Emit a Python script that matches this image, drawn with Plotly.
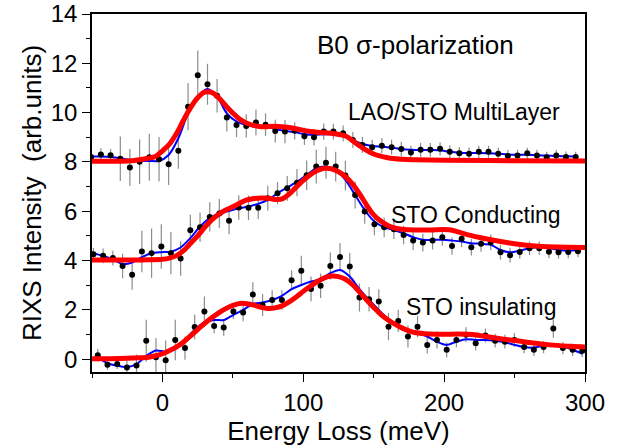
import plotly.graph_objects as go

# ---------------- data ----------------
E_top = [-50.6, -43.7, -36.8, -29.9, -23.1, -16.2, -9.3, -2.4, 4.4, 11.3, 18.2, 25.1, 32.0, 38.8, 45.7,
         52.6, 59.5, 66.4, 73.2, 80.1, 87.0, 93.9, 100.8, 107.6, 114.5, 121.4, 128.3, 135.2, 142.0, 148.9,
         155.8, 162.7, 169.6, 176.4, 183.3, 190.2, 197.1, 204.0, 210.8, 217.7, 224.6, 231.5, 238.4, 245.2,
         252.1, 259.0, 265.9, 272.8, 279.6, 286.5, 293.4]
E_mid = [-49.0, -42.1, -35.2, -28.3, -21.5, -14.6, -7.7, -0.8, 6.0, 12.9, 19.8, 26.7, 33.6, 40.4, 47.3,
         54.2, 61.1, 68.0, 74.8, 81.7, 88.6, 95.5, 102.4, 109.2, 116.1, 123.0, 129.9, 136.8, 143.6, 150.5,
         157.4, 164.3, 171.2, 178.0, 184.9, 191.8, 198.7, 205.6, 212.4, 219.3, 226.2, 233.1, 240.0, 246.8,
         253.7, 260.6, 267.5, 274.4, 281.2, 288.1, 295.0]
E_bot = [-45.9, -39.0, -32.1, -25.2, -18.4, -11.5, -4.6, 2.3, 9.1, 16.0, 22.9, 29.8, 36.7, 43.5, 50.4,
         57.3, 64.2, 71.1, 77.9, 84.8, 91.7, 98.6, 105.5, 112.3, 119.2, 126.1, 133.0, 139.9, 146.7, 153.6,
         160.5, 167.4, 174.3, 181.1, 188.0, 194.9, 201.8, 208.7, 215.5, 222.4, 229.3, 236.2, 243.1, 249.9,
         256.8, 263.7, 270.6, 277.5, 284.3, 291.2, 298.1]

top_data = [8.20, 8.30, 8.27, 8.13, 7.77, 8.01, 8.19, 8.11, 7.91, 8.45, 10.24, 11.52, 11.15, 10.68, 9.80,
            9.50, 9.46, 9.60, 9.51, 9.25, 9.23, 9.26, 9.04, 9.00, 9.23, 9.23, 9.16, 8.89, 8.69, 8.60,
            8.66, 8.60, 8.52, 8.38, 8.49, 8.49, 8.53, 8.41, 8.35, 8.33, 8.41, 8.41, 8.33, 8.24, 8.26,
            8.35, 8.26, 8.19, 8.26, 8.20, 8.20]
top_err = [0.2, 0.25, 0.25, 0.9, 0.75, 0.9, 0.95, 0.9, 0.85, 0.73, 0.96, 1.0, 0.83, 0.68, 0.57,
           0.49, 0.47, 0.53, 0.46, 0.46, 0.47, 0.35, 0.35, 0.33, 0.33, 0.32, 0.32, 0.32, 0.32, 0.3,
           0.3, 0.3, 0.3, 0.28, 0.28, 0.28, 0.27, 0.27, 0.26, 0.26, 0.25, 0.25, 0.25, 0.24, 0.24,
           0.23, 0.23, 0.22, 0.22, 0.22, 0.21]
top_smooth = [8.22, 8.22, 8.20, 8.15, 8.08, 8.05, 8.04, 8.04, 8.28, 8.96, 9.97, 10.65, 10.96, 10.65, 9.97,
              9.64, 9.50, 9.43, 9.43, 9.34, 9.26, 9.21, 9.12, 9.10, 9.12, 9.12, 9.08, 8.89, 8.73, 8.65,
              8.62, 8.58, 8.52, 8.49, 8.48, 8.48, 8.47, 8.41, 8.37, 8.36, 8.36, 8.35, 8.33, 8.30, 8.29,
              8.29, 8.27, 8.26, 8.24, 8.23, 8.22]

mid_data = [4.26, 4.19, 4.10, 3.78, 3.42, 4.37, 4.30, 4.57, 4.30, 4.08, 5.23, 5.35, 5.77, 5.91, 5.61,
            6.15, 6.14, 6.14, 6.53, 6.73, 6.93, 7.16, 7.46, 7.81, 7.97, 7.81, 7.45, 6.66, 5.99, 5.47,
            5.35, 5.27, 5.04, 4.81, 4.73, 4.81, 4.95, 4.59, 4.88, 4.54, 4.68, 4.74, 4.34, 4.22, 4.35,
            4.50, 4.50, 4.36, 4.34, 4.35, 4.38]
mid_err = [0.25, 0.3, 0.3, 0.5, 0.6, 0.84, 1.0, 0.9, 0.86, 0.7, 0.63, 0.6, 0.59, 0.59, 0.54,
           0.5, 0.5, 0.45, 0.5, 0.45, 0.5, 0.55, 0.6, 0.68, 0.65, 0.6, 0.6, 0.55, 0.5, 0.45,
           0.4, 0.4, 0.38, 0.38, 0.36, 0.36, 0.35, 0.35, 0.33, 0.33, 0.32, 0.32, 0.3, 0.3, 0.28,
           0.28, 0.27, 0.27, 0.26, 0.26, 0.25]
mid_smooth = [4.30, 4.19, 4.05, 3.86, 3.92, 4.14, 4.30, 4.34, 4.36, 4.53, 4.91, 5.38, 5.72, 5.92, 6.01,
              6.12, 6.19, 6.30, 6.46, 6.73, 6.96, 7.20, 7.47, 7.75, 7.81, 7.68, 7.27, 6.66, 6.05, 5.58,
              5.35, 5.24, 5.11, 4.95, 4.84, 4.84, 4.84, 4.81, 4.77, 4.70, 4.68, 4.64, 4.43, 4.34, 4.40,
              4.50, 4.54, 4.50, 4.43, 4.40, 4.43]

bot_data = [0.16, -0.23, -0.20, -0.34, -0.26, 0.75, 0.08, -0.04, 0.78, 0.45, 1.31, 1.93, 1.35, 1.28, 1.93,
            1.89, 2.62, 2.20, 2.40, 2.40, 3.20, 3.59, 2.85, 2.98, 3.78, 4.14, 3.76, 2.50, 2.43, 2.34,
            1.32, 1.55, 0.92, 1.32, 0.58, 0.78, 0.38, 0.78, 0.99, 0.65, 0.96, 0.75, 0.71, 0.78, 0.49,
            0.38, 0.49, 1.24, 0.45, 0.38, 0.34]
bot_err = [0.25, 0.2, 0.2, 0.3, 0.45, 0.85, 0.78, 0.8, 0.82, 0.47, 0.5, 0.61, 0.3, 0.33, 0.3,
           0.35, 0.5, 0.45, 0.4, 0.4, 0.4, 0.6, 0.5, 0.5, 0.55, 0.57, 0.55, 0.57, 0.5, 0.5,
           0.55, 0.45, 0.45, 0.44, 0.35, 0.35, 0.3, 0.3, 0.3, 0.3, 0.28, 0.28, 0.28, 0.28, 0.25,
           0.25, 0.25, 0.37, 0.25, 0.25, 0.25]
bot_smooth = [0.08, -0.16, -0.27, -0.32, -0.20, 0.13, 0.35, 0.31, 0.41, 0.78, 1.19, 1.50, 1.59, 1.59, 1.80,
              2.00, 2.24, 2.30, 2.40, 2.57, 2.84, 3.01, 3.15, 3.24, 3.49, 3.62, 3.35, 2.84, 2.40, 2.00,
              1.62, 1.39, 1.19, 1.05, 0.92, 0.71, 0.58, 0.71, 0.81, 0.78, 0.78, 0.75, 0.69, 0.58, 0.49,
              0.47, 0.54, 0.58, 0.51, 0.38, 0.22]

# fitted model curves (red)
fit_top_E = [-50, -40, -30, -20, -10, -5, 0, 5, 10, 15, 20, 25, 30, 35, 40, 45, 50, 55, 60, 70, 80, 90,
             100, 110, 120, 130, 140, 150, 160, 170, 180, 200, 250, 300]
fit_top = [8.03, 8.03, 8.03, 8.06, 8.15, 8.22, 8.45, 8.72, 9.15, 9.70, 10.20, 10.60, 10.83, 10.82, 10.60,
           10.28, 9.98, 9.73, 9.57, 9.43, 9.45, 9.40, 9.28, 9.20, 9.16, 9.05, 8.65, 8.32, 8.17, 8.11,
           8.09, 8.07, 8.05, 8.04]
fit_mid_E = [-50, -20, -10, 0, 5, 10, 15, 20, 25, 30, 35, 40, 45, 50, 55, 60, 65, 70, 75, 80, 85, 90,
             95, 100, 105, 110, 115, 120, 125, 130, 135, 140, 145, 150, 155, 160, 165, 170, 180, 190,
             200, 205, 210, 220, 230, 240, 250, 260, 270, 280, 300]
fit_mid = [4.02, 4.02, 4.03, 4.05, 4.10, 4.20, 4.40, 4.70, 5.00, 5.35, 5.65, 5.88, 6.05, 6.18, 6.33,
           6.46, 6.52, 6.54, 6.53, 6.48, 6.50, 6.70, 6.98, 7.25, 7.48, 7.65, 7.74, 7.72, 7.60, 7.40,
           7.10, 6.70, 6.25, 5.85, 5.60, 5.42, 5.32, 5.27, 5.24, 5.24, 5.26, 5.24, 5.16, 5.00, 4.88,
           4.77, 4.68, 4.61, 4.57, 4.55, 4.53]
fit_bot_E = [-50, -30, -20, -10, -5, 0, 5, 10, 15, 20, 25, 30, 35, 40, 45, 50, 55, 60, 65, 70, 75, 80,
             85, 90, 95, 100, 105, 110, 115, 120, 125, 130, 135, 140, 145, 150, 155, 160, 165, 170, 175,
             180, 190, 200, 210, 220, 230, 240, 250, 260, 275, 290, 300]
fit_bot = [0.02, 0.03, 0.05, 0.08, 0.14, 0.22, 0.35, 0.50, 0.70, 0.95, 1.20, 1.45, 1.68, 1.88, 2.05,
           2.18, 2.26, 2.25, 2.19, 2.10, 2.06, 2.08, 2.16, 2.32, 2.52, 2.75, 2.96, 3.15, 3.30, 3.37,
           3.35, 3.24, 3.02, 2.72, 2.40, 2.10, 1.82, 1.60, 1.42, 1.27, 1.15, 1.07, 1.02, 1.01, 1.02,
           1.00, 0.92, 0.83, 0.76, 0.68, 0.58, 0.52, 0.49]

labels = ["B0 σ-polarization", "LAO/STO MultiLayer", "STO Conducting", "STO insulating"]
x_ticks = [0, 100, 200, 300]
y_ticks = [0, 2, 4, 6, 8, 10, 12, 14]

FONT = "Liberation Sans, Arial, sans-serif"

fig = go.Figure()

series = [(E_top, top_data, top_err, top_smooth, fit_top_E, fit_top),
          (E_mid, mid_data, mid_err, mid_smooth, fit_mid_E, fit_mid),
          (E_bot, bot_data, bot_err, bot_smooth, fit_bot_E, fit_bot)]

for E, d, err, sm, fE, f in series:
    # error bars (gray, no caps)
    fig.add_trace(go.Scatter(x=E, y=d, mode="markers",
                             marker=dict(size=1, color="rgba(0,0,0,0)"),
                             error_y=dict(type="data", array=err, color="#8c8c8c",
                                          thickness=1.2, width=0),
                             showlegend=False, hoverinfo="skip"))
for E, d, err, sm, fE, f in series:
    fig.add_trace(go.Scatter(x=E, y=sm, mode="lines",
                             line=dict(color="#0000ff", width=2, shape="spline", smoothing=0.8),
                             showlegend=False))
for E, d, err, sm, fE, f in series:
    fig.add_trace(go.Scatter(x=E, y=d, mode="markers",
                             marker=dict(size=6, color="black"),
                             showlegend=False))
for E, d, err, sm, fE, f in series:
    fig.add_trace(go.Scatter(x=fE, y=f, mode="lines",
                             line=dict(color="#ff0000", width=5, shape="spline", smoothing=1),
                             showlegend=False))

ann_pos = [(180, 12.75, 26), (207, 10.03, 23), (222.6, 5.85, 23), (226, 2.13, 23)]
for txt, (ax, ay, fs) in zip(labels, ann_pos):
    fig.add_annotation(x=ax, y=ay, xref="x", yref="y", text=txt, showarrow=False,
                       font=dict(family=FONT, size=fs, color="black"),
                       xanchor="center", yanchor="middle")

fig.update_xaxes(range=[-50, 300], tickvals=x_ticks, ticks="outside", ticklen=8, tickwidth=1.3,
                 tickcolor="black", showline=True, linecolor="black", linewidth=1.5, mirror=True,
                 showgrid=False, zeroline=False, automargin=False,
                 minor=dict(dtick=50, tick0=0, ticks="outside", ticklen=4, tickcolor="black", tickwidth=1.3),
                 tickfont=dict(family=FONT, size=24, color="black"),
                 title=dict(text="Energy Loss (meV)", font=dict(family=FONT, size=26, color="black"),
                            standoff=2))
fig.update_yaxes(range=[-0.52, 14], tickvals=y_ticks, ticks="outside", ticklen=8, tickwidth=1.3,
                 tickcolor="black", showline=True, linecolor="black", linewidth=1.5, mirror=True,
                 showgrid=False, zeroline=False, automargin=False,
                 minor=dict(dtick=1, tick0=0, ticks="outside", ticklen=4, tickcolor="black", tickwidth=1.3),
                 tickfont=dict(family=FONT, size=24, color="black"),
                 title=dict(text="RIXS Intensity  (arb.units)", font=dict(family=FONT, size=26, color="black"),
                            standoff=2))

fig.update_layout(width=623, height=447, margin=dict(l=92, r=38, t=14, b=75),
                  plot_bgcolor="white", paper_bgcolor="white", showlegend=False)

fig.write_html("out.html")
